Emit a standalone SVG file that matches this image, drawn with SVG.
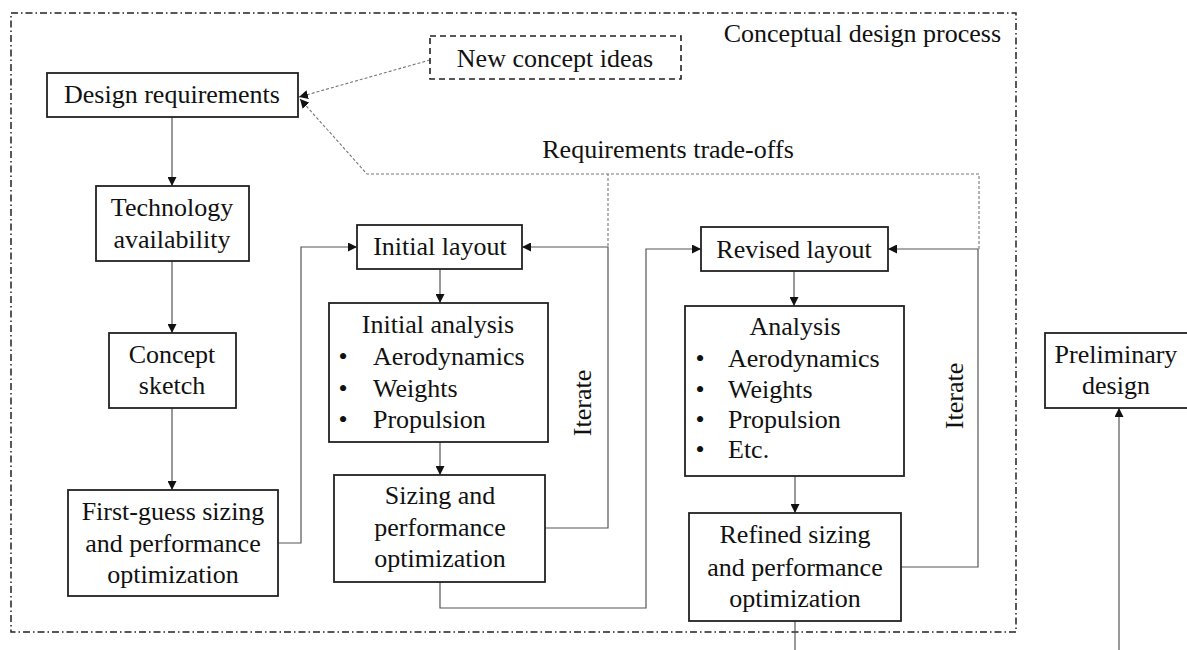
<svg xmlns="http://www.w3.org/2000/svg" width="1187" height="650" viewBox="0 0 1187 650">
<style>
text{font-family:"Liberation Serif","Times New Roman",serif;font-size:26px;fill:#111}
.c{text-anchor:middle}
.box{fill:#fff;stroke:#222;stroke-width:1.8}
.dbox{fill:#fff;stroke:#222;stroke-width:1.6;stroke-dasharray:6,4}
.frame{fill:none;stroke:#222;stroke-width:1.5;stroke-dasharray:7,3,1.5,3}
.ln{fill:none;stroke:#555;stroke-width:1.2}
.dot{fill:none;stroke:#777;stroke-width:1.1;stroke-dasharray:3,2}
</style>
<defs>
<marker id="ah" markerUnits="userSpaceOnUse" markerWidth="9" markerHeight="9" refX="9" refY="4.5" orient="auto">
<path d="M0,0 L9,4.5 L0,9 z" fill="#111"/>
</marker>
</defs>
<rect class="frame" x="11" y="13" width="1005" height="619"/>
<text x="1001" y="42" text-anchor="end">Conceptual design process</text>
<text x="668" y="158" class="c">Requirements trade-offs</text>
<text class="c" transform="translate(591,403) rotate(-90)">Iterate</text>
<text class="c" transform="translate(963,396) rotate(-90)">Iterate</text>
<g id="connectors">
<path class="dot" d="M430,60 L299,97" marker-end="url(#ah)"/>
<path class="dot" d="M979,249 L979,174 L367,174 L300,99" marker-end="url(#ah)"/>
<path class="dot" d="M608,246 L608,174"/>
<path class="ln" d="M172,117 L172,186" marker-end="url(#ah)"/>
<path class="ln" d="M172,261 L172,333" marker-end="url(#ah)"/>
<path class="ln" d="M172,408 L172,490" marker-end="url(#ah)"/>
<path class="ln" d="M278,543 L301,543 L301,247 L357,247" marker-end="url(#ah)"/>
<path class="ln" d="M440,269 L440,303" marker-end="url(#ah)"/>
<path class="ln" d="M440,442 L440,475" marker-end="url(#ah)"/>
<path class="ln" d="M545,528 L608,528 L608,247 L522,247" marker-end="url(#ah)"/>
<path class="ln" d="M440,582 L440,608 L646,608 L646,249 L701,249" marker-end="url(#ah)"/>
<path class="ln" d="M794,271 L794,306" marker-end="url(#ah)"/>
<path class="ln" d="M795,476 L795,513" marker-end="url(#ah)"/>
<path class="ln" d="M901,567 L978,567 L978,249 L888,249" marker-end="url(#ah)"/>
<path class="ln" d="M795,621 L795,650"/>
<path class="ln" d="M1119,650 L1119,408" marker-end="url(#ah)"/>
</g>
<g id="new-concept">
<rect class="dbox" x="430" y="36" width="251" height="43"/>
<text x="555" y="67" class="c">New concept ideas</text>
</g>
<g id="design-req">
<rect class="box" x="47" y="73" width="251" height="44"/>
<text x="172" y="103" class="c">Design requirements</text>
</g>
<g id="tech">
<rect class="box" x="96" y="186" width="153" height="75"/>
<text x="172" y="216" class="c">Technology</text>
<text x="172" y="248" class="c">availability</text>
</g>
<g id="sketch">
<rect class="box" x="109" y="333" width="127" height="75"/>
<text x="172" y="363" class="c">Concept</text>
<text x="172" y="394" class="c">sketch</text>
</g>
<g id="first-guess">
<rect class="box" x="68" y="490" width="210" height="106"/>
<text x="173" y="520" class="c">First-guess sizing</text>
<text x="173" y="552" class="c">and performance</text>
<text x="173" y="583" class="c">optimization</text>
</g>
<g id="initial-layout">
<rect class="box" x="357" y="225" width="165" height="44"/>
<text x="440" y="255" class="c">Initial layout</text>
</g>
<g id="initial-analysis">
<rect class="box" x="329" y="303" width="219" height="139"/>
<text x="438" y="333" class="c">Initial analysis</text>
<text x="343" y="365" class="c">•</text><text x="373" y="365">Aerodynamics</text>
<text x="343" y="397" class="c">•</text><text x="373" y="397">Weights</text>
<text x="343" y="428" class="c">•</text><text x="373" y="428">Propulsion</text>
</g>
<g id="sizing">
<rect class="box" x="334" y="475" width="211" height="107"/>
<text x="440" y="504" class="c">Sizing and</text>
<text x="440" y="536" class="c">performance</text>
<text x="440" y="567" class="c">optimization</text>
</g>
<g id="revised-layout">
<rect class="box" x="701" y="227" width="187" height="44"/>
<text x="794" y="258" class="c">Revised layout</text>
</g>
<g id="analysis">
<rect class="box" x="685" y="306" width="219" height="170"/>
<text x="795" y="335" class="c">Analysis</text>
<text x="700" y="367" class="c">•</text><text x="728" y="367">Aerodynamics</text>
<text x="700" y="398" class="c">•</text><text x="728" y="398">Weights</text>
<text x="700" y="428" class="c">•</text><text x="728" y="428">Propulsion</text>
<text x="700" y="458" class="c">•</text><text x="728" y="458">Etc.</text>
</g>
<g id="refined">
<rect class="box" x="689" y="513" width="212" height="108"/>
<text x="795" y="543" class="c">Refined sizing</text>
<text x="795" y="576" class="c">and performance</text>
<text x="795" y="607" class="c">optimization</text>
</g>
<g id="preliminary">
<rect class="box" x="1045" y="333" width="150" height="75"/>
<text x="1116" y="363" class="c">Preliminary</text>
<text x="1116" y="394" class="c">design</text>
</g>
</svg>
